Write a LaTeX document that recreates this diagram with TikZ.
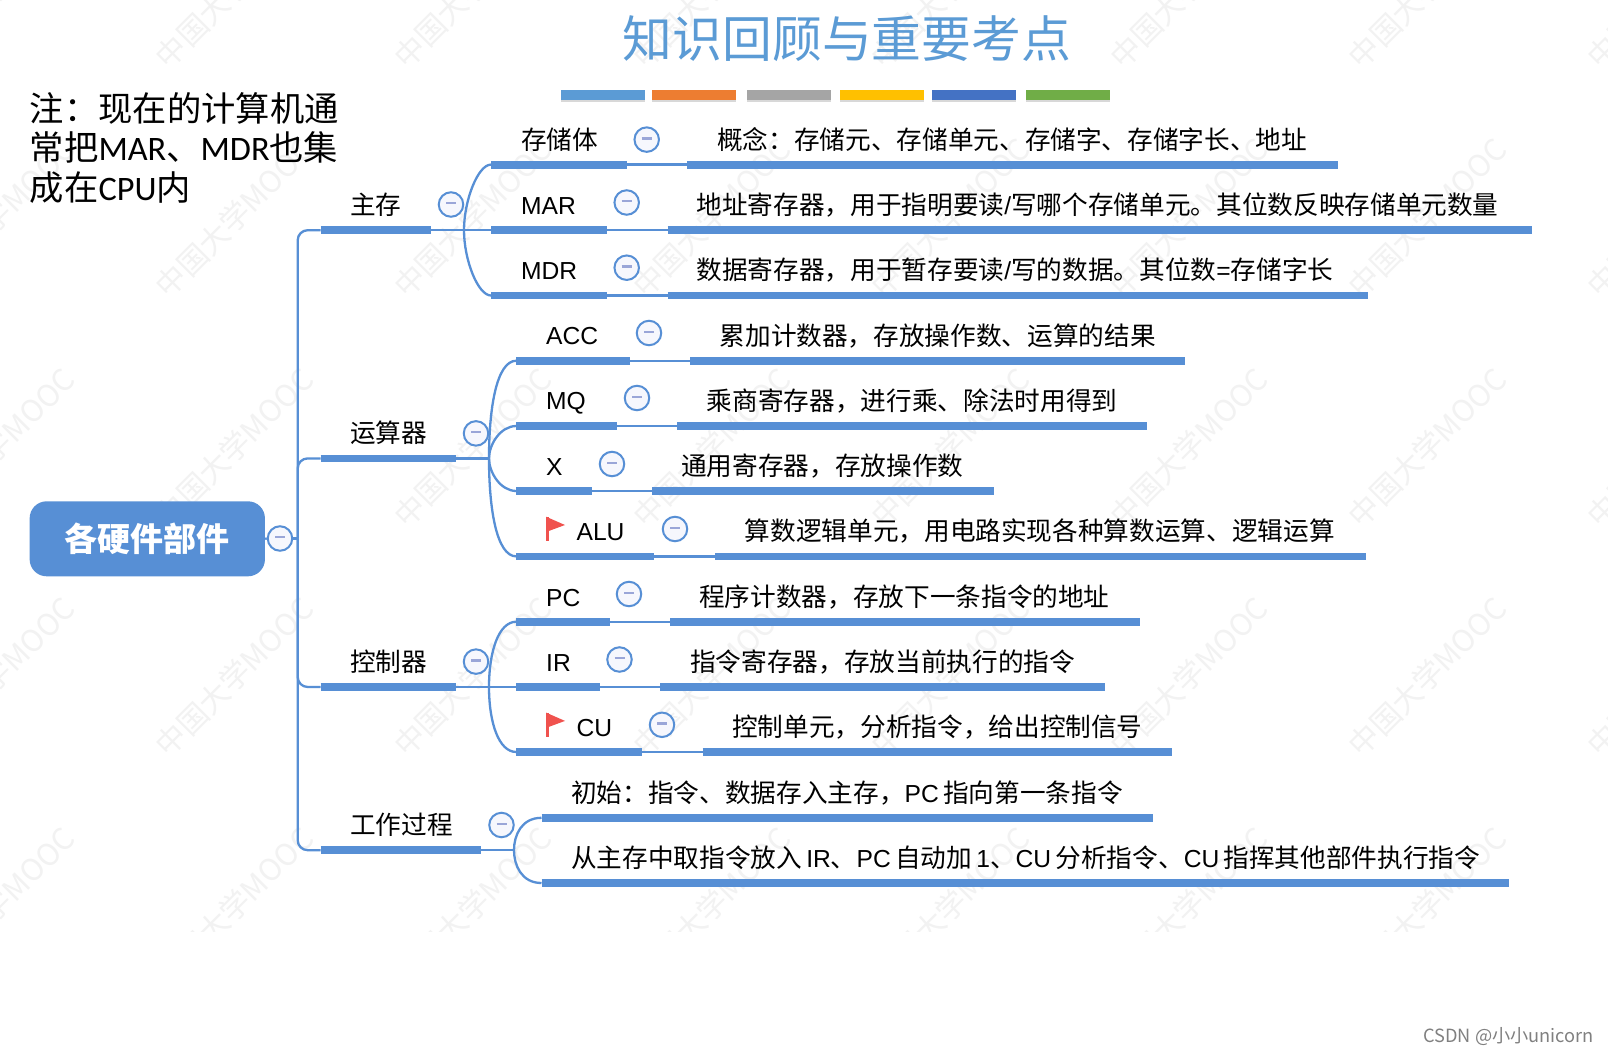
\documentclass[tikz,border=0pt]{standalone}
\usepackage{fontspec}
\setmainfont{Noto Sans CJK SC}
\newfontfamily\carlito{Carlito}
\newfontfamily\latin[Scale=0.96]{Liberation Sans}
\usetikzlibrary{shadows}

\definecolor{mapblue}{HTML}{578FD5}
\definecolor{titleblue}{HTML}{5B9BD5}
\definecolor{foldfill}{HTML}{F6F7FD}
\definecolor{minusblue}{HTML}{9AA6D8}
\definecolor{flagred}{HTML}{F0524E}
\definecolor{markgray}{HTML}{F2F2F2}

\tikzset{
    link/.style={draw=mapblue,line width=2.3pt},
    bar/.style={draw=mapblue,line width=7.8pt},
    topic/.style={anchor=west,inner sep=0pt,text height=22pt,text depth=3pt,font=\fontsize{25.65}{30}\selectfont},
    fold/.style={circle,draw=mapblue,line width=2pt,fill=foldfill,minimum size=24.5pt,inner sep=0pt},
    rootbox/.style={rounded corners=17pt,fill=mapblue,text=white,minimum width=235.3pt,minimum height=75pt,inner sep=0pt,font=\fontsize{33}{36}\selectfont\bfseries},
    stripe/.style={drop shadow={opacity=0.3,shadow xshift=0pt,shadow yshift=-2pt}},
}

% one row of a branch: thick bar, thin gap under the fold mark, thick bar
\newcommand{\rowbars}[6]{
    \coordinate (#1A) at (#2,#6);
    \coordinate (#1B) at (#3,#6);
    \coordinate (#1C) at (#4,#6);
    \coordinate (#1D) at (#5,#6);
    \draw[bar] (#1A) -- (#1B);
    \draw[link] (#1B) -- (#1C);
    \draw[bar] (#1C) -- (#1D);
}
\newcommand{\foldmark}{\textcolor{minusblue}{\rule[2.5pt]{10pt}{2.3pt}}}

\begin{document}
\begin{tikzpicture}[x=1pt,y=-1pt]
    \useasboundingbox (0,0) rectangle (1608,1055);
    \fill[white] (0,0) rectangle (1608,1055);

    %% faint repeated mark behind everything
    \begin{scope}
        \clip (0,0) rectangle (1608,931);
        \foreach \i in {-1,...,6}
            \foreach \j in {0,...,4}
                \node[anchor=west,rotate=45,inner sep=0pt,text=markgray,font=\fontsize{30}{32}\selectfont]
                    (mark\i\j) at ({160.5+238.6*\i},{62+229.5*\j}) {中国大学MOOC};
    \end{scope}

    \node[inner sep=0pt,text=titleblue,font=\fontsize{49.8}{54}\selectfont] (title) at (847,39) {知识回顾与重要考点};
    \foreach \xa/\xb/\col in {561/645/5B9BD5,652/736/ED7D31,747/831/A5A5A5,840/924/FFC000,932/1016/4472C4,1026/1110/70AD47}{
        \definecolor{stripecol}{HTML}{\col}
        \fill[stripecol,stripe] (\xa,90) rectangle (\xb,100);
    }

    \node[anchor=north west,align=left,inner sep=0pt,font=\fontsize{34.3}{39.7}\selectfont] (note) at (29.7,92)
        {注：现在的计算机通\\常把{\carlito MAR}、{\carlito MDR}也集\\成在{\carlito CPU}内};

    %% root and spine
    \node[rootbox] (root) at (147.3,538.8) {各硬件部件};
    \node[fold] (rootF) at (280,538.5) {\foldmark};
    \coordinate (spine) at (297.7,538.5);
    \draw[link] (root.east) -- (rootF.west);
    \draw[link] (rootF.east) -- (spine);

    %% first level
    \coordinate (memA) at (320.5,230.2);
    \coordinate (memB) at (430.8,230.2);
    \coordinate (memFork) at (464,230.2);
    \coordinate (aluA) at (320.5,458.4);
    \coordinate (aluB) at (456,458.4);
    \coordinate (aluFork) at (489,458.4);
    \coordinate (ctlA) at (320.5,687);
    \coordinate (ctlB) at (456,687);
    \coordinate (ctlFork) at (489,687);
    \coordinate (runA) at (320.5,850.2);
    \coordinate (runB) at (481,850.2);
    \coordinate (runFork) at (514,850.2);
    \draw[link,rounded corners=10pt] (spine) |- (memA);
    \draw[link,rounded corners=10pt] (spine) |- (aluA);
    \draw[link,rounded corners=10pt] (spine) |- (ctlA);
    \draw[link,rounded corners=10pt] (spine) |- (runA);
    \draw[bar] (memA) -- (memB);
    \draw[bar] (aluA) -- (aluB);
    \draw[bar] (ctlA) -- (ctlB);
    \draw[bar] (runA) -- (runB);
    \draw[link] (memB) -- (memFork);
    \draw[link] (aluB) -- (aluFork);
    \draw[link] (ctlB) -- (ctlFork);
    \draw[link] (runB) -- (runFork);

    \node[topic] (mem) at (350,204.5) {主存};
    \node[fold] (memF) at (451,204.5) {\foldmark};
    \node[topic] (alu) at (350,433.4) {运算器};
    \node[fold] (aluF) at (476,433.4) {\foldmark};
    \node[topic] (ctl) at (350,661.6) {控制器};
    \node[fold] (ctlF) at (476,661.6) {\foldmark};
    \node[topic] (run) at (350,825) {工作过程};
    \node[fold] (runF) at (501.5,825) {\foldmark};

    %% main memory rows
    \rowbars{sto}{491}{626.7}{687}{1337.8}{164.6}
    \rowbars{mar}{491}{607}{667.7}{1531.7}{230.2}
    \rowbars{mdr}{491}{607}{667.7}{1368}{295.5}
    \draw[link] (memFork) .. controls +(0,-30) and +(-13,0) .. (stoA);
    \draw[link] (memFork) -- (marA);
    \draw[link] (memFork) .. controls +(0,30) and +(-13,0) .. (mdrA);
    \node[topic] (sto) at (521,140) {存储体};
    \node[fold] (stoF) at (646.7,139.6) {\foldmark};
    \node[topic] (stoT) at (717,140) {概念：存储元、存储单元、存储字、存储字长、地址};
    \node[topic] (mar) at (521,204.5) {\latin MAR};
    \node[fold] (marF) at (626.7,202.5) {\foldmark};
    \node[topic] (marT) at (696.4,204.5) {地址寄存器，用于指明要读{\latin /}写哪个存储单元。其位数反映存储单元数量};
    \node[topic] (mdr) at (521,270) {\latin MDR};
    \node[fold] (mdrF) at (626.7,267.7) {\foldmark};
    \node[topic] (mdrT) at (696.4,270) {数据寄存器，用于暂存要读{\latin /}写的数据。其位数{\latin =}存储字长};

    %% arithmetic unit rows
    \rowbars{acc}{516.4}{629.7}{690}{1184.5}{360.7}
    \rowbars{mq}{516.4}{617}{677}{1147}{426}
    \rowbars{xr}{516.4}{592}{652}{994}{491}
    \rowbars{au}{516.4}{654}{715}{1366}{556.4}
    \draw[link] (aluFork) .. controls +(0,-50) and +(-20,0) .. (accA);
    \draw[link] (aluFork) .. controls +(0,-14) and +(-16,0) .. (mqA);
    \draw[link] (aluFork) .. controls +(0,14) and +(-16,0) .. (xrA);
    \draw[link] (aluFork) .. controls +(0,50) and +(-20,0) .. (auA);
    \node[topic] (acc) at (546,335) {\latin ACC};
    \node[fold] (accF) at (649,333) {\foldmark};
    \node[topic] (accT) at (719.5,335.5) {累加计数器，存放操作数、运算的结果};
    \node[topic] (mq) at (546,400) {\latin MQ};
    \node[fold] (mqF) at (637,398) {\foldmark};
    \node[topic] (mqT) at (706.7,400.5) {乘商寄存器，进行乘、除法时用得到};
    \node[topic] (xr) at (546,465.5) {\latin X};
    \node[fold] (xrF) at (612,464) {\foldmark};
    \node[topic] (xrT) at (681,465.5) {通用寄存器，存放操作数};
    \coordinate (auFlag) at (546,516.7);
    \fill[flagred] (auFlag) rectangle +(3.4,24.6);
    \fill[flagred] (auFlag) -- +(19,8.3) -- +(0,15.3) -- cycle;
    \node[topic] (au) at (576.4,531) {\latin ALU};
    \node[fold] (auF) at (675,529) {\foldmark};
    \node[topic] (auT) at (744.6,531) {算数逻辑单元，用电路实现各种算数运算、逻辑运算};

    %% control unit rows
    \rowbars{pc}{516.4}{610}{670}{1140}{621.7}
    \rowbars{ir}{516.4}{599.5}{660}{1104.5}{687}
    \rowbars{cu}{516.4}{642}{702.5}{1172}{752}
    \draw[link] (ctlFork) .. controls +(0,-35) and +(-18,0) .. (pcA);
    \draw[link] (ctlFork) -- (irA);
    \draw[link] (ctlFork) .. controls +(0,35) and +(-18,0) .. (cuA);
    \node[topic] (pc) at (546,596.5) {\latin PC};
    \node[fold] (pcF) at (629,594) {\foldmark};
    \node[topic] (pcT) at (699,596.5) {程序计数器，存放下一条指令的地址};
    \node[topic] (ir) at (546,662) {\latin IR};
    \node[fold] (irF) at (619.5,659.5) {\foldmark};
    \node[topic] (irT) at (690,662) {指令寄存器，存放当前执行的指令};
    \coordinate (cuFlag) at (546,712.6);
    \fill[flagred] (cuFlag) rectangle +(3.4,24.6);
    \fill[flagred] (cuFlag) -- +(19,8.3) -- +(0,15.3) -- cycle;
    \node[topic] (cu) at (576.4,727) {\latin CU};
    \node[fold] (cuF) at (662,724.8) {\foldmark};
    \node[topic] (cuT) at (732,727) {控制单元，分析指令，给出控制信号};

    %% working process rows
    \coordinate (iniA) at (541.5,817.8);
    \coordinate (iniB) at (1152.7,817.8);
    \coordinate (stpA) at (541.5,883);
    \coordinate (stpB) at (1509,883);
    \draw[bar] (iniA) -- (iniB);
    \draw[bar] (stpA) -- (stpB);
    \draw[link] (runFork) .. controls +(0,-15) and +(-20,0) .. (iniA);
    \draw[link] (runFork) .. controls +(0,15) and +(-20,0) .. (stpA);
    \node[topic] (ini) at (571,792.5) {初始：指令、数据存入主存，{\latin PC}\,指向第一条指令};
    \node[topic] (stp) at (571,857.5) {从主存中取指令放入\,{\latin IR}、{\latin PC}\,自动加\,{\latin 1}、{\latin CU}\,分析指令、{\latin CU}\,指挥其他部件执行指令};

    \node[anchor=east,inner sep=0pt,text=gray,font=\fontsize{18.2}{22}\selectfont] (csdn) at (1594,1037) {CSDN @小小unicorn};
\end{tikzpicture}
\end{document}
